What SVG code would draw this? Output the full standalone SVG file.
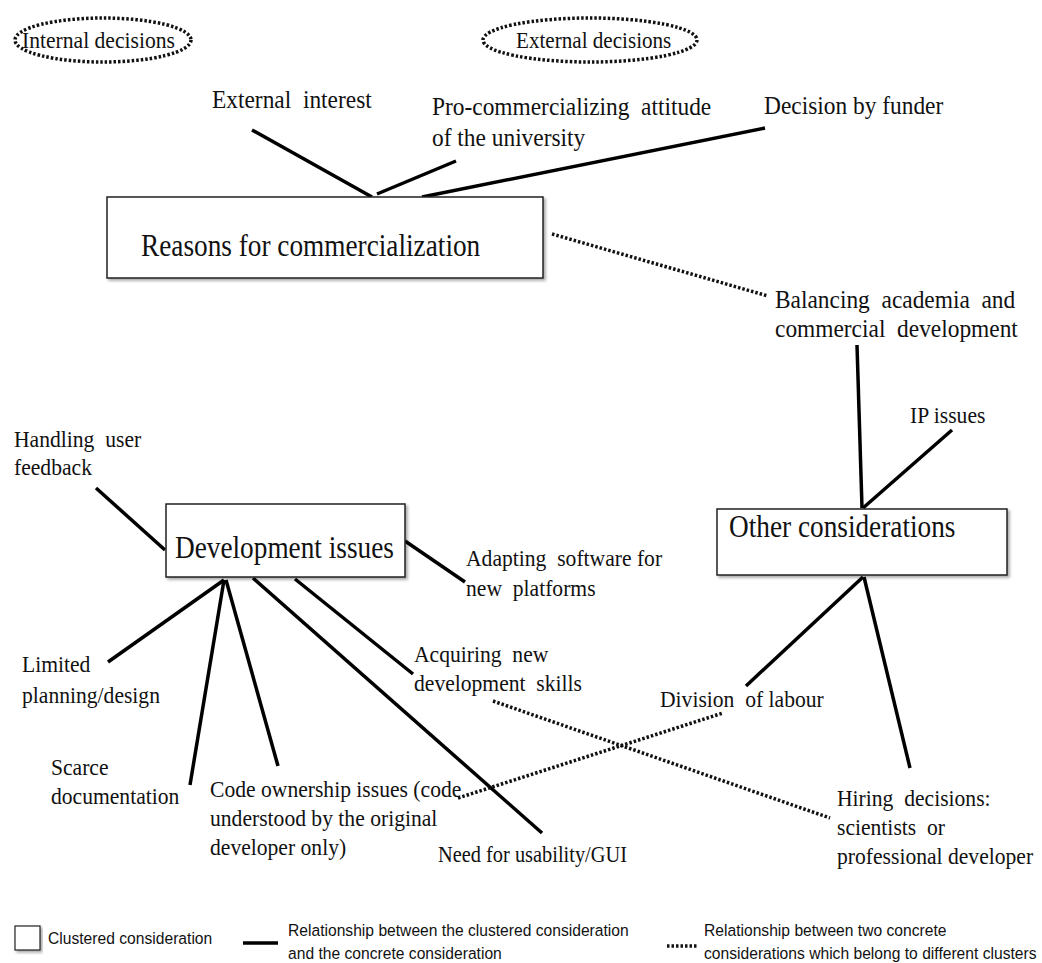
<svg xmlns="http://www.w3.org/2000/svg" width="1042" height="963" viewBox="0 0 1042 963">
  <defs>
    <filter id="shadow" x="-5%" y="-5%" width="115%" height="125%">
      <feDropShadow dx="2" dy="2" stdDeviation="1.5" flood-color="#000" flood-opacity="0.35"/>
    </filter>
    <style>
      .box { fill: #fff; stroke: #222; stroke-width: 1.5; filter: url(#shadow); }
      .solid { stroke: #000; stroke-width: 3.5; fill: none; }
      .dotted { stroke: #111; stroke-width: 3.5; fill: none; stroke-dasharray: 2.5 2; }
      .oval { stroke: #111; stroke-width: 3.5; fill: none; stroke-dasharray: 2.5 2; }
      text { font-family: "Liberation Serif", "Times New Roman", serif; fill: #111; white-space: pre; }
      .big { font-size: 26px; }
      .sm { font-size: 24px; }
      .ovl { font-size: 24px; }
      .title { font-size: 31px; }
      .leg { font-family: "Liberation Sans", Arial, sans-serif; font-size: 17px; }
    </style>
  </defs>
  <rect width="1042" height="963" fill="#fff"/>

  <!-- decision-type ovals -->
  <g id="internal-decisions">
    <ellipse class="oval" cx="103" cy="40" rx="88" ry="22"/>
    <text class="ovl" transform="translate(22 48) scale(0.9 1)">Internal decisions</text>
  </g>
  <g id="external-decisions">
    <ellipse class="oval" cx="590" cy="40" rx="107" ry="22"/>
    <text class="ovl" transform="translate(516 48) scale(0.88 1)">External decisions</text>
  </g>

  <!-- connectors -->
  <g id="connectors">
    <line class="solid" x1="252" y1="130" x2="372" y2="197"/>
    <line class="solid" x1="456" y1="161" x2="377" y2="194"/>
    <line class="solid" x1="765" y1="128" x2="422" y2="197"/>
    <line class="dotted" x1="552" y1="234" x2="768" y2="296"/>
    <line class="solid" x1="857" y1="345" x2="862" y2="508"/>
    <line class="solid" x1="952" y1="430" x2="863" y2="508"/>
    <line class="solid" x1="863" y1="577" x2="746" y2="686"/>
    <line class="solid" x1="864" y1="577" x2="910" y2="768"/>
    <line class="solid" x1="96" y1="488" x2="165" y2="550"/>
    <line class="solid" x1="405" y1="541" x2="465" y2="582"/>
    <line class="solid" x1="224" y1="580" x2="108" y2="662"/>
    <line class="solid" x1="224" y1="580" x2="190" y2="785"/>
    <line class="solid" x1="226" y1="580" x2="278" y2="766"/>
    <line class="solid" x1="253" y1="578" x2="542" y2="833"/>
    <line class="solid" x1="295" y1="579" x2="413" y2="674"/>
    <line class="dotted" x1="493" y1="701" x2="830" y2="818"/>
    <line class="dotted" x1="458" y1="798" x2="723" y2="713"/>
  </g>

  <!-- clustered considerations -->
  <g id="reasons-for-commercialization">
    <rect class="box" x="107" y="197" width="436" height="81"/>
    <text class="title" transform="translate(141 256) scale(0.88 1)">Reasons for commercialization</text>
  </g>
  <g id="development-issues">
    <rect class="box" x="166" y="504" width="239" height="73"/>
    <text class="title" transform="translate(175 558) scale(0.88 1)">Development issues</text>
  </g>
  <g id="other-considerations">
    <rect class="box" x="717" y="509" width="290" height="66"/>
    <text class="title" transform="translate(729 537) scale(0.88 1)">Other considerations</text>
  </g>

  <!-- concrete considerations -->
  <g id="external-interest"><text class="big" transform="translate(212 108) scale(0.9 1)">External  interest</text></g>
  <g id="pro-commercializing" transform="translate(432 0) scale(0.9 1)">
    <text class="big" x="0" y="115">Pro-commercializing  attitude</text>
    <text class="big" x="0" y="146">of the university</text>
  </g>
  <g id="decision-by-funder"><text class="big" transform="translate(764 114) scale(0.9 1)">Decision by funder</text></g>
  <g id="balancing" transform="translate(775 0) scale(0.9 1)">
    <text class="big" x="0" y="308">Balancing  academia  and</text>
    <text class="big" x="0" y="337">commercial  development</text>
  </g>
  <g id="ip-issues"><text class="sm" transform="translate(910 423) scale(0.9 1)">IP issues</text></g>
  <g id="handling-feedback" transform="translate(14 0) scale(0.9 1)">
    <text class="sm" x="0" y="447">Handling  user</text>
    <text class="sm" x="0" y="475">feedback</text>
  </g>
  <g id="adapting-software" transform="translate(466 0) scale(0.9 1)">
    <text class="sm" x="0" y="566">Adapting  software for</text>
    <text class="sm" x="0" y="596">new  platforms</text>
  </g>
  <g id="limited-planning" transform="translate(22 0) scale(0.9 1)">
    <text class="sm" x="0" y="672">Limited</text>
    <text class="sm" x="0" y="703">planning/design</text>
  </g>
  <g id="acquiring-skills" transform="translate(414 0) scale(0.9 1)">
    <text class="sm" x="0" y="662">Acquiring  new</text>
    <text class="sm" x="0" y="691">development  skills</text>
  </g>
  <g id="division-of-labour"><text class="sm" transform="translate(660 707) scale(0.9 1)">Division  of labour</text></g>
  <g id="scarce-documentation" transform="translate(51 0) scale(0.9 1)">
    <text class="sm" x="0" y="775">Scarce</text>
    <text class="sm" x="0" y="804">documentation</text>
  </g>
  <g id="code-ownership" transform="translate(210 0) scale(0.9 1)">
    <text class="sm" x="0" y="797">Code ownership issues (code</text>
    <text class="sm" x="0" y="826">understood by the original</text>
    <text class="sm" x="0" y="855">developer only)</text>
  </g>
  <g id="usability-gui"><text class="sm" transform="translate(438 862) scale(0.9 1)" textLength="210" lengthAdjust="spacingAndGlyphs">Need for usability/GUI</text></g>
  <g id="hiring-decisions" transform="translate(837 0) scale(0.9 1)">
    <text class="sm" x="0" y="806">Hiring  decisions:</text>
    <text class="sm" x="0" y="835">scientists  or</text>
    <text class="sm" x="0" y="864">professional developer</text>
  </g>

  <!-- legend -->
  <g id="legend">
    <rect x="15" y="926" width="25" height="24" fill="#fff" stroke="#222" stroke-width="1.2" filter="url(#shadow)"/>
    <text class="leg" transform="translate(48 944) scale(0.92 1)">Clustered consideration</text>
    <line class="solid" x1="243" y1="943" x2="278" y2="943" stroke-width="4"/>
    <g transform="translate(288 0) scale(0.92 1)">
      <text class="leg" x="0" y="936">Relationship between the clustered consideration</text>
      <text class="leg" x="0" y="959">and the concrete consideration</text>
    </g>
    <line class="dotted" x1="667" y1="946" x2="697" y2="946"/>
    <g transform="translate(704 0) scale(0.92 1)">
      <text class="leg" x="0" y="936">Relationship between two concrete</text>
      <text class="leg" x="0" y="959">considerations which belong to different clusters</text>
    </g>
  </g>
</svg>
